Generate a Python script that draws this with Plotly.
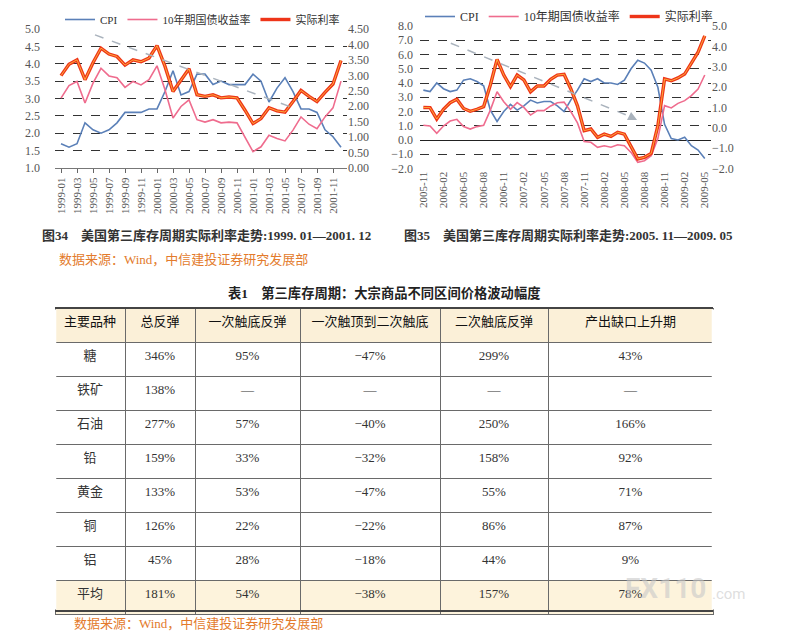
import pandas as pd
import plotly.graph_objs as go

## months on the x axis
months1 = pd.period_range("1999-01", "2001-12", freq="M").strftime("%Y-%m").tolist()
months2 = pd.period_range("2005-11", "2009-05", freq="M").strftime("%Y-%m").tolist()

## chart 34 : 1999.01 - 2001.12
cpi1 = [1.7, 1.6, 1.7, 2.3, 2.1, 2.0, 2.1, 2.3, 2.6, 2.6, 2.6, 2.7,
        2.7, 3.2, 3.8, 3.1, 3.2, 3.7, 3.7, 3.4, 3.5, 3.4, 3.4, 3.4,
        3.7, 3.5, 2.9, 3.3, 3.6, 3.2, 2.7, 2.7, 2.6, 2.1, 1.9, 1.6]
bond1 = [3.01, 3.37, 3.49, 2.87, 3.44, 3.87, 3.65, 3.60, 3.32, 3.49, 3.39, 3.54,
         3.94, 3.25, 2.44, 2.77, 2.96, 2.39, 2.32, 2.39, 2.30, 2.32, 2.30, 1.90,
         1.47, 1.61, 1.94, 1.85, 1.78, 2.09, 2.47, 2.26, 2.13, 2.47, 2.73, 3.50]
real1 = [2.99, 3.36, 3.50, 2.86, 3.41, 3.88, 3.69, 3.61, 3.33, 3.50, 3.44, 3.56,
         3.96, 3.29, 2.48, 2.86, 3.21, 2.37, 2.32, 2.37, 2.27, 2.30, 2.27, 1.87,
         1.44, 1.60, 1.95, 1.85, 1.81, 2.15, 2.51, 2.32, 2.15, 2.45, 2.72, 3.48]

## chart 35 : 2005.11 - 2009.05
cpi2 = [3.5, 3.4,
        4.0, 3.6, 3.4, 3.5, 4.2, 4.3, 4.1, 3.8, 2.1, 1.3, 2.0, 2.5,
        2.1, 2.4, 2.8, 2.6, 2.7, 2.7, 2.4, 2.0, 2.8, 3.5, 4.3, 4.1,
        4.3, 4.0, 4.0, 3.9, 4.2, 5.0, 5.6, 5.4, 4.9, 3.7, 1.1, 0.1,
        0.0, 0.2, -0.4, -0.7, -1.3]
bond2 = [1.03, 0.98,
         0.47, 0.98, 1.33, 1.45, 0.94, 0.77, 0.94, 1.03, 2.10, 3.39, 2.69, 2.15,
         2.62, 2.29, 1.75, 2.06, 2.06, 2.39, 2.62, 2.66, 2.00, 1.20, -0.10, -0.16,
         -0.51, -0.40, -0.51, -0.33, -0.40, -0.87, -1.57, -1.45, -1.10, 0.10, 2.41, 2.25,
         2.57, 2.76, 3.11, 3.58, 4.56]
real2 = [1.00, 0.99,
         0.43, 0.91, 1.23, 1.40, 0.95, 0.81, 0.91, 1.04, 2.10, 3.36, 2.59, 2.02,
         2.59, 2.35, 1.77, 2.05, 2.05, 2.38, 2.59, 2.63, 1.92, 1.08, -0.14, -0.06,
         -0.47, -0.31, -0.42, -0.22, -0.31, -0.93, -1.53, -1.45, -1.26, 0.10, 2.40, 2.31,
         2.45, 2.64, 3.17, 3.71, 4.52]

## table 1
tbl_header = ["主要品种", "总反弹", "一次触底反弹", "一次触顶到二次触底", "二次触底反弹", "产出缺口上升期"]
goods = ["糖", "铁矿", "石油", "铅", "黄金", "铜", "铝", "平均"]
total_rebound = ["346%", "138%", "277%", "159%", "133%", "126%", "45%", "181%"]
first_rebound = ["95%", "—", "57%", "33%", "53%", "22%", "28%", "54%"]
top_to_bottom = ["−47%", "—", "−40%", "−32%", "−47%", "−22%", "−18%", "−38%"]
second_rebound = ["299%", "—", "250%", "158%", "55%", "86%", "44%", "157%"]
output_gap = ["43%", "—", "166%", "92%", "71%", "87%", "9%", "78%"]

W, H = 787, 640
BLUE = "#5b80b8"
PINK = "#ef6c8e"
RED = "#ee3519"
SERIF = "Liberation Serif, Noto Sans CJK SC"
CJK = "Noto Sans CJK SC"
ORANGE = "#e37b2c"

fig = go.Figure()

names = ["CPI", "10年期国债收益率", "实际利率"]
for k, (xs, c, b, r) in enumerate([(months1, cpi1, bond1, real1), (months2, cpi2, bond2, real2)]):
    xa = "x" if k == 0 else "x2"
    ya_l = "y" if k == 0 else "y3"
    ya_r = "y2" if k == 0 else "y4"
    lg = "legend" if k == 0 else "legend2"
    fig.add_trace(go.Scatter(x=xs, y=c, mode="lines", name=names[0], xaxis=xa, yaxis=ya_l,
                             line=dict(color=BLUE, width=1.6), legend=lg))
    fig.add_trace(go.Scatter(x=xs, y=b, mode="lines", name=names[1], xaxis=xa, yaxis=ya_l,
                             line=dict(color=PINK, width=1.6), legend=lg))
    fig.add_trace(go.Scatter(x=xs, y=r, mode="lines", name=names[2], xaxis=xa, yaxis=ya_r,
                             line=dict(color=RED, width=3.4), legend=lg))
    # thin yellow core of the real-rate line, as in the printed chart
    fig.add_trace(go.Scatter(x=xs, y=r, mode="lines", xaxis=xa, yaxis=ya_r, showlegend=False,
                             hoverinfo="skip", line=dict(color="#ffb43c", width=0.9)))

fig.add_trace(go.Table(
    domain=dict(x=[55 / W, 713 / W], y=[0.035, 1 - 308 / H]),
    columnwidth=[70, 70, 105, 140, 108, 165],
    header=dict(values=tbl_header, height=34, align="center",
                fill_color="#fbf0d8", line=dict(color="#6a6a6a", width=1),
                font=dict(family=CJK, size=13, color="#111")),
    cells=dict(values=[goods, total_rebound, first_rebound, top_to_bottom, second_rebound, output_gap],
               height=34, align="center",
               fill_color=[["white"] * 7 + ["#fdf3dc"]] * 6,
               line=dict(color="#6a6a6a", width=1),
               font=dict(family=SERIF, size=13, color="#333")),
))

tick_font = dict(family=SERIF, size=12, color="#555")
grid = dict(showgrid=True, gridcolor="#333", griddash="dash", gridwidth=1)
zero_pos = (1 - 168.5 / H) + 0.2 * ((1 - 26 / H) - (1 - 168.5 / H))

fig.update_layout(
    width=W, height=H, autosize=False,
    margin=dict(l=0, r=0, t=0, b=0, autoexpand=False),
    paper_bgcolor="white", plot_bgcolor="white",
    font=dict(family=SERIF, color="#333"),
    xaxis=dict(domain=[55 / W, 347 / W], type="category", range=[-0.75, 35.75],
               tickvals=months1[::2], tickangle=-90, tickfont=dict(family=SERIF, size=11, color="#555"),
               ticks="outside", ticklen=4, tickcolor="#666", showline=True, linecolor="#777",
               showgrid=False, anchor="y", automargin=False),
    yaxis=dict(domain=[1 - 168 / H, 1 - 29 / H], range=[1, 5], dtick=0.5, tickformat=".1f",
               tickfont=tick_font, zeroline=False, ticklabelstandoff=14, anchor="x",
               automargin=False, **grid),
    yaxis2=dict(overlaying="y", side="right", range=[0, 4.5], dtick=0.5, tickformat=".2f",
                tickfont=tick_font, showgrid=False, zeroline=False, anchor="x", automargin=False),
    xaxis2=dict(domain=[420 / W, 711 / W], type="category", range=[-0.5, 42.93],
                tickvals=months2[::3], tickangle=-90, tickfont=dict(family=SERIF, size=11, color="#555"),
                showgrid=False, showline=False, anchor="y3", automargin=False),
    ## second x axis of chart 35 only for the tick marks hanging from the zero line
    xaxis3=dict(domain=[420 / W, 711 / W], overlaying="x2", anchor="free", position=zero_pos,
                range=[-0.5, 42.93], tickvals=list(range(0, len(months2), 3)),
                showticklabels=False, ticks="outside", ticklen=4, tickcolor="#333",
                showgrid=False, showline=False, zeroline=False, automargin=False),
    yaxis3=dict(domain=[1 - 168.5 / H, 1 - 26 / H], range=[-2, 8], dtick=1, tickformat=".1f",
                tickfont=tick_font, zeroline=True, zerolinecolor="#222", zerolinewidth=1.3,
                ticklabelstandoff=6, anchor="x2", automargin=False, **grid),
    yaxis4=dict(overlaying="y3", side="right", range=[-2, 5], dtick=1, tickformat=".1f",
                tickfont=tick_font, showgrid=False, zeroline=False, anchor="x2", automargin=False),
    legend=dict(orientation="h", x=60 / W, y=1 - 5 / H, xanchor="left", yanchor="top",
                font=dict(family=SERIF, size=11, color="#333"), bgcolor="rgba(0,0,0,0)",
                itemwidth=30, tracegroupgap=0),
    legend2=dict(orientation="h", x=420 / W, y=1 - 2 / H, xanchor="left", yanchor="top",
                 font=dict(family=SERIF, size=12, color="#333"), bgcolor="rgba(0,0,0,0)",
                 itemwidth=30, tracegroupgap=0),
    showlegend=True,
)

## grey dashed trend lines
fig.add_shape(type="line", xref="x", yref="y", x0=4.25, y0=4.83, x1=29.4, y1=2.70,
              line=dict(color="#aab3bd", width=1.5, dash="dash"))
fig.add_shape(type="line", xref="x2", yref="y3", x0=4.1, y0=6.79, x1=31.6, y1=1.50,
              line=dict(color="#aab3bd", width=1.5, dash="dash"))
fig.add_annotation(xref="x2", yref="y3", x=31.9, y=1.40, ax=-8, ay=-4, text="", showarrow=True,
                   arrowhead=2, arrowsize=1.2, arrowwidth=1.5, arrowcolor="#aab3bd")

txt = [
    (40, 235, "<b>图34    美国第三库存周期实际利率走势:1999. 01—2001. 12</b>", "left", 13, "#333"),
    (402, 235, "<b>图35    美国第三库存周期实际利率走势:2005. 11—2009. 05</b>", "left", 13, "#333"),
    (57, 259, "数据来源：Wind，中信建投证券研究发展部", "left", 13, ORANGE),
    (384, 293, "<b>表1    第三库存周期：大宗商品不同区间价格波动幅度</b>", "center", 13.3, "#222"),
    (72, 623, "数据来源：Wind，中信建投证券研究发展部", "left", 13, ORANGE),
]
for x, y, t, anc, sz, col in txt:
    fig.add_annotation(xref="paper", yref="paper", x=x / W, y=1 - y / H, text=t, showarrow=False,
                       xanchor=anc, yanchor="middle", font=dict(family=SERIF, size=sz, color=col))

## table borders: thick top / bottom rules, no outer side rules
for yy in [308, 611]:
    fig.add_shape(type="line", xref="paper", yref="paper", x0=55 / W, x1=713 / W,
                  y0=1 - yy / H, y1=1 - yy / H, line=dict(color="#444", width=2))
for xx in [55, 713]:
    fig.add_shape(type="line", xref="paper", yref="paper", x0=xx / W, x1=xx / W,
                  y0=1 - 309.5 / H, y1=1 - 609.5 / H, line=dict(color="white", width=2.5))

## watermark
fig.add_annotation(xref="paper", yref="paper", x=665 / W, y=1 - 588 / H, text="<b>FX110</b>",
                   xanchor="center", yanchor="middle", showarrow=False,
                   font=dict(family="Roboto", size=28, color="rgba(200,200,200,0.6)"))
fig.add_annotation(xref="paper", yref="paper", x=729 / W, y=1 - 594 / H, text=".com",
                   xanchor="center", yanchor="middle", showarrow=False,
                   font=dict(family="Roboto", size=15, color="rgba(200,200,200,0.6)"))

fig.write_html("out.html", config={"displayModeBar": False},
               post_script="document.body.style.margin='0';")
